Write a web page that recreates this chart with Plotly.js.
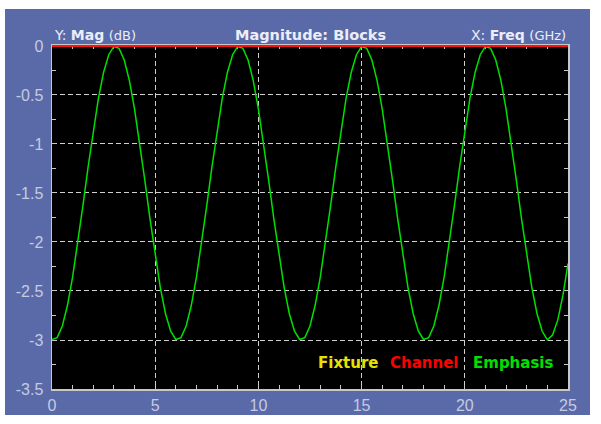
<!DOCTYPE html>
<html>
<head>
<meta charset="utf-8">
<script src="https://cdn.plot.ly/plotly-3.0.1.min.js"></script>
<style>
html,body{margin:0;padding:0;background:#ffffff;}
#chart{position:absolute;left:5px;top:9px;width:585px;height:406px;}
</style>
</head>
<body>
<div id="chart"></div>
<script>
// Frequency (GHz), sampled every 0.25 GHz
const freq = [];
for (let i = 0; i <= 100; i++) freq.push(i * 0.25);

// Emphasis magnitude (dB)
const emphasisMag = [
  -2.995,-2.976,-2.857,-2.646,-2.356,-2.008,-1.626,-1.234,-0.861,-0.532,-0.268,-0.089,
  -0.005,-0.024,-0.143,-0.354,-0.644,-0.992,-1.374,-1.766,-2.139,-2.468,-2.732,-2.911,
  -2.995,-2.976,-2.857,-2.646,-2.356,-2.008,-1.626,-1.234,-0.861,-0.532,-0.268,-0.089,
  -0.005,-0.024,-0.143,-0.354,-0.644,-0.992,-1.374,-1.766,-2.139,-2.468,-2.732,-2.911,
  -2.995,-2.976,-2.857,-2.646,-2.356,-2.008,-1.626,-1.234,-0.861,-0.532,-0.268,-0.089,
  -0.005,-0.024,-0.143,-0.354,-0.644,-0.992,-1.374,-1.766,-2.139,-2.468,-2.732,-2.911,
  -2.995,-2.976,-2.857,-2.646,-2.356,-2.008,-1.626,-1.234,-0.861,-0.532,-0.268,-0.089,
  -0.005,-0.024,-0.143,-0.354,-0.644,-0.992,-1.374,-1.766,-2.139,-2.468,-2.732,-2.911,
  -2.998,-2.950,-2.800,-2.550,-2.220
];

// Channel magnitude (dB)
const channelFreq = [0, 25];
const channelMag = [0, 0];

const xTicks = [0, 5, 10, 15, 20, 25];
const yTicks = [0, -0.5, -1, -1.5, -2, -2.5, -3, -3.5];
const yTickText = ["0", "-0.5", "-1", "-1.5", "-2", "-2.5", "-3", "-3.5"];

const legendNames = ["Fixture", "Channel", "Emphasis"];
const legendColors = ["#e8e000", "#ff0000", "#00e000"];
const legendX = [0.512, 0.651, 0.812];

const tickColor = "#c4cbe2";
const lineColor = "#c8c8c8";
const gridColor = "#d0d0d0";
const fontFam = "DejaVu Sans, Verdana, sans-serif";
const tickFam = "Liberation Sans, Arial, sans-serif";

const traces = [
  {x: freq, y: emphasisMag, type: "scatter", mode: "lines", name: "Emphasis",
   line: {color: "#00e000", width: 1.5}, hoverinfo: "skip"},
  {x: channelFreq, y: channelMag, type: "scatter", mode: "lines", name: "Channel",
   line: {color: "#ff1010", width: 2}, hoverinfo: "skip"}
];

const annotations = [
  {xref: "paper", yref: "paper", x: 0, y: 1, xanchor: "left", yanchor: "bottom", yshift: 0,
   text: "Y: <b>Mag</b> <span style='font-size:13px'>(dB)</span>", showarrow: false,
   font: {family: fontFam, size: 14, color: "#eceef6"}},
  {xref: "paper", yref: "paper", x: 0.5, y: 1, xanchor: "center", yanchor: "bottom", yshift: 0,
   text: "<b>Magnitude: Blocks</b>", showarrow: false,
   font: {family: fontFam, size: 14.5, color: "#eceef6"}},
  {xref: "paper", yref: "paper", x: 1, y: 1, xanchor: "right", yanchor: "bottom", yshift: 0,
   text: "X: <b>Freq</b> <span style='font-size:13px'>(GHz)</span>", showarrow: false,
   font: {family: fontFam, size: 14, color: "#eceef6"}}
];
legendNames.forEach((n, i) => {
  annotations.push({xref: "paper", yref: "paper", x: legendX[i], y: 0.075,
    xanchor: "left", yanchor: "middle", text: "<b>" + n + "</b>", showarrow: false,
    font: {family: fontFam, size: 15, color: legendColors[i]}});
});

const layout = {
  width: 585, height: 406,
  margin: {l: 47, r: 22, t: 36, b: 26, pad: 0},
  paper_bgcolor: "#5a6aa8",
  plot_bgcolor: "#000000",
  showlegend: false,
  font: {family: tickFam, size: 16, color: tickColor},
  xaxis: {
    range: [0, 25], tickvals: xTicks, ticktext: xTicks.map(String), layer: "below traces",
    showgrid: true, gridcolor: gridColor, griddash: "5px,3px", gridwidth: 1,
    zeroline: false, showline: true, linecolor: lineColor, linewidth: 1.5, mirror: "ticks",
    ticks: "inside", ticklen: 4, tickcolor: lineColor, tickwidth: 1,
    minor: {dtick: 1, tick0: 0, ticks: "inside", ticklen: 4, tickcolor: lineColor, showgrid: false},
    tickfont: {family: tickFam, size: 16, color: tickColor}, ticklabelstandoff: 1
  },
  yaxis: {
    range: [-3.5, 0.01], tickvals: yTicks, ticktext: yTickText, layer: "below traces",
    showgrid: true, gridcolor: gridColor, griddash: "5px,3px", gridwidth: 1,
    zeroline: false, showline: true, linecolor: lineColor, linewidth: 1.5, mirror: "ticks",
    ticks: "inside", ticklen: 4, tickcolor: lineColor, tickwidth: 1,
    minor: {dtick: 0.25, tick0: 0, ticks: "inside", ticklen: 4, tickcolor: lineColor, showgrid: false},
    tickfont: {family: tickFam, size: 16, color: tickColor}, ticklabelstandoff: 4
  },
  annotations: annotations
};

Plotly.newPlot("chart", traces, layout, {displayModeBar: false, staticPlot: true});
</script>
</body>
</html>
